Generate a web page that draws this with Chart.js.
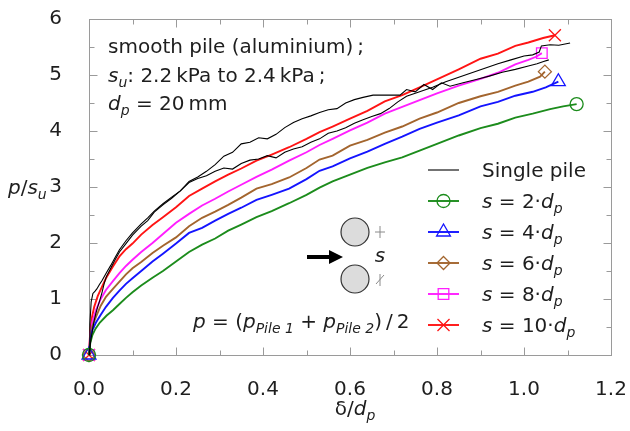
<!DOCTYPE html>
<html><head><meta charset="utf-8">
<script src="https://cdn.jsdelivr.net/npm/chart.js@4/dist/chart.umd.min.js"></script>
<style>html,body{margin:0;padding:0;background:#fff}#wrap{width:630px;height:431px;position:relative}</style>
</head><body><div id="wrap"><canvas id="c" width="630" height="431"></canvas></div>
<script>
// ---------------- data ----------------
const xTickValues = [0, 0.2, 0.4, 0.6, 0.8, 1.0, 1.2];
const yTickValues = [0, 1, 2, 3, 4, 5, 6];
const spacingLabels = ['2', '4', '6', '8', '10'];

const singleAX = [0,0.002,0.005,0.009,0.014,0.018,0.024,0.03,0.04,0.05,0.06,0.07,0.085,0.1,0.12,0.135,0.15,0.17,0.19,0.21,0.23,0.25,0.27,0.29,0.31,0.33,0.35,0.37,0.39,0.41,0.43,0.45,0.47,0.49,0.51,0.53,0.55,0.57,0.59,0.61,0.63,0.653,0.715,0.73,0.75,0.77,0.79,0.81,0.83,0.86,0.89,0.92,0.95,0.98,1.01,1.03,1.045,1.057];
const singleAY = [0,0.55,0.95,1.10,1.14,1.18,1.26,1.33,1.47,1.60,1.74,1.88,2.04,2.18,2.34,2.45,2.57,2.70,2.82,2.93,3.10,3.18,3.28,3.40,3.55,3.62,3.77,3.80,3.88,3.86,3.94,4.06,4.15,4.22,4.27,4.33,4.38,4.40,4.50,4.56,4.60,4.64,4.64,4.74,4.70,4.83,4.74,4.86,4.80,4.86,4.92,4.98,5.05,5.10,5.16,5.20,5.24,5.27];
const singleBX = [0,0.004,0.008,0.012,0.016,0.02,0.025,0.03,0.035,0.04,0.05,0.06,0.07,0.085,0.1,0.12,0.135,0.15,0.17,0.19,0.21,0.23,0.25,0.27,0.29,0.31,0.33,0.35,0.37,0.39,0.41,0.43,0.45,0.47,0.49,0.51,0.53,0.55,0.57,0.59,0.61,0.63,0.65,0.67,0.69,0.71,0.73,0.76,0.79,0.82,0.85,0.88,0.91,0.94,0.97,1.0,1.02,1.035,1.04,1.06,1.08,1.106];
const singleBY = [0,0.25,0.45,0.62,0.75,0.86,0.98,1.12,1.28,1.40,1.55,1.70,1.84,1.99,2.14,2.30,2.40,2.55,2.68,2.80,2.93,3.08,3.15,3.20,3.28,3.34,3.32,3.42,3.48,3.50,3.56,3.52,3.62,3.68,3.72,3.80,3.86,3.96,4.00,4.06,4.14,4.20,4.26,4.31,4.40,4.52,4.62,4.70,4.78,4.88,4.96,5.04,5.12,5.20,5.27,5.34,5.36,5.41,5.52,5.54,5.53,5.57];

const s2X = [0,0.003,0.008,0.015,0.025,0.04,0.055,0.07,0.085,0.1,0.12,0.146,0.17,0.2,0.23,0.26,0.29,0.32,0.35,0.385,0.42,0.46,0.5,0.53,0.56,0.6,0.64,0.68,0.72,0.76,0.8,0.85,0.9,0.94,0.98,1.02,1.06,1.09,1.121];
const s2Y = [0,0.22,0.36,0.47,0.58,0.70,0.80,0.91,1.02,1.12,1.24,1.38,1.50,1.67,1.84,1.97,2.08,2.22,2.33,2.46,2.57,2.71,2.86,2.99,3.10,3.22,3.34,3.44,3.53,3.65,3.77,3.92,4.05,4.13,4.24,4.31,4.39,4.44,4.48];
const s4X = [0,0.003,0.008,0.016,0.027,0.039,0.055,0.07,0.085,0.1,0.12,0.146,0.17,0.2,0.23,0.26,0.29,0.32,0.35,0.385,0.42,0.46,0.5,0.53,0.56,0.6,0.64,0.68,0.72,0.76,0.8,0.85,0.9,0.94,0.98,1.02,1.05,1.079];
const s4Y = [0,0.28,0.45,0.58,0.72,0.86,1.02,1.15,1.27,1.37,1.50,1.67,1.81,1.99,2.18,2.27,2.40,2.52,2.63,2.77,2.86,2.97,3.14,3.29,3.37,3.51,3.63,3.77,3.90,4.04,4.15,4.28,4.44,4.52,4.63,4.70,4.78,4.88];
const s6X = [0,0.003,0.008,0.016,0.027,0.039,0.055,0.07,0.085,0.1,0.12,0.146,0.17,0.2,0.23,0.26,0.29,0.32,0.35,0.385,0.42,0.46,0.5,0.53,0.56,0.6,0.64,0.68,0.72,0.76,0.8,0.85,0.9,0.94,0.98,1.01,1.037,1.048];
const s6Y = [0,0.33,0.52,0.68,0.88,1.04,1.18,1.31,1.44,1.55,1.66,1.82,1.95,2.10,2.30,2.45,2.56,2.68,2.81,2.97,3.05,3.17,3.34,3.49,3.56,3.74,3.84,3.97,4.08,4.22,4.33,4.50,4.62,4.70,4.81,4.88,4.97,5.06];
const s8X = [0,0.003,0.008,0.016,0.027,0.039,0.055,0.07,0.085,0.1,0.12,0.146,0.17,0.2,0.23,0.26,0.29,0.32,0.35,0.385,0.42,0.46,0.5,0.53,0.56,0.6,0.64,0.68,0.72,0.76,0.8,0.85,0.9,0.94,0.98,1.01,1.029,1.041];
const s8Y = [0,0.38,0.60,0.80,1.00,1.16,1.32,1.46,1.59,1.70,1.84,2.00,2.16,2.36,2.52,2.67,2.79,2.92,3.04,3.18,3.31,3.47,3.62,3.75,3.86,4.01,4.15,4.31,4.43,4.55,4.67,4.81,4.93,5.04,5.19,5.27,5.33,5.39];
const s10X = [0,0.003,0.007,0.012,0.02,0.03,0.039,0.055,0.07,0.085,0.1,0.12,0.146,0.17,0.2,0.23,0.26,0.29,0.32,0.35,0.385,0.42,0.46,0.5,0.53,0.56,0.6,0.64,0.68,0.72,0.76,0.8,0.85,0.9,0.94,0.98,1.01,1.044,1.071];
const s10Y = [0,0.45,0.68,0.86,1.05,1.22,1.37,1.58,1.76,1.89,1.99,2.15,2.32,2.46,2.64,2.84,2.97,3.10,3.22,3.33,3.47,3.58,3.71,3.86,3.98,4.08,4.22,4.36,4.53,4.64,4.78,4.92,5.10,5.29,5.38,5.52,5.58,5.66,5.71];

// ---------------- styling ----------------
const FONT = "'DejaVu Sans', sans-serif";
const TXT = '#1e1e1e';
const FRAME = '#9a9a9a';
const COLORS = { s2:'#1c8c1c', s4:'#1414ff', s6:'#a3652e', s8:'#ff1eff', s10:'#ff1414' };

const pts = (xs, ys) => xs.map((x, i) => ({ x, y: ys[i] }));
const endR = r => ctx => (ctx.dataIndex === 0 || ctx.dataIndex === ctx.dataset.data.length - 1) ? r : 0;

function series(label, xs, ys, color, style, r, rot) {
  return {
    label, data: pts(xs, ys), borderColor: color, borderWidth: 1.9,
    pointStyle: style, pointRadius: endR(r), pointRotation: rot || 0,
    pointBorderColor: color, pointBackgroundColor: 'rgba(0,0,0,0)', pointBorderWidth: 1.3,
    pointHoverRadius: 0, tension: 0, clip: false, order: 2
  };
}

const datasets = [
  series('s = 2·dp', s2X, s2Y, COLORS.s2, 'circle', 6.5),
  series('s = 4·dp', s4X, s4Y, COLORS.s4, 'triangle', 8),
  series('s = 6·dp', s6X, s6Y, COLORS.s6, 'rectRot', 6.5),
  series('s = 8·dp', s8X, s8Y, COLORS.s8, 'rect', 7.5),
  series('s = 10·dp', s10X, s10Y, COLORS.s10, 'crossRot', 8.5),
  { label: 'Single pile', data: pts(singleAX, singleAY), borderColor: '#000', borderWidth: 1.1, pointRadius: 0, tension: 0, clip: false, order: 0 },
  { label: 'Single pile (2)', data: pts(singleBX, singleBY), borderColor: '#000', borderWidth: 1.1, pointRadius: 0, tension: 0, clip: false, order: 0 }
];

// ---------------- helpers ----------------
function fontFor(p) {
  const size = p.sub ? 14 : 20;
  return (p.i ? 'italic ' : '') + size + 'px ' + FONT;
}
function rich(ctx, x, y, parts, align) {
  let total = 0; const ws = [];
  parts.forEach(p => { ctx.font = fontFor(p); const w = ctx.measureText(p.t).width; ws.push(w); total += w; });
  let cx = align === 'center' ? x - total / 2 : align === 'right' ? x - total : x;
  ctx.textAlign = 'left'; ctx.textBaseline = 'alphabetic';
  parts.forEach((p, k) => { ctx.font = fontFor(p); ctx.fillText(p.t, cx, y + (p.sub ? 5 : 0)); cx += ws[k]; });
}
function marker(ctx, style, x, y, r, color) {
  ctx.save(); ctx.strokeStyle = color; ctx.lineWidth = 1.3; ctx.beginPath();
  if (style === 'circle') { ctx.arc(x, y, r, 0, Math.PI * 2); }
  else if (style === 'triangle') {
    for (let k = 0; k < 3; k++) { const a = k * 2 * Math.PI / 3; const px = x + Math.sin(a) * r, py = y - Math.cos(a) * r; k ? ctx.lineTo(px, py) : ctx.moveTo(px, py); }
    ctx.closePath();
  } else if (style === 'rectRot') {
    ctx.moveTo(x, y - r); ctx.lineTo(x + r, y); ctx.lineTo(x, y + r); ctx.lineTo(x - r, y); ctx.closePath();
  } else if (style === 'rect') { const s = r * Math.SQRT1_2; ctx.rect(x - s, y - s, 2 * s, 2 * s); }
  else if (style === 'crossRot') { const s = r * Math.SQRT1_2; ctx.moveTo(x - s, y - s); ctx.lineTo(x + s, y + s); ctx.moveTo(x - s, y + s); ctx.lineTo(x + s, y - s); }
  ctx.stroke(); ctx.restore();
}
function seg(ctx, x1, y1, x2, y2) { ctx.beginPath(); ctx.moveTo(x1, y1); ctx.lineTo(x2, y2); ctx.stroke(); }

const decor = {
  id: 'decor',
  beforeDatasetsDraw(chart) {
    const { ctx, chartArea: a, scales: { x, y } } = chart;
    ctx.save();
    ctx.strokeStyle = FRAME; ctx.lineWidth = 1;
    const L = Math.round(a.left) + 0.5, R = Math.round(a.right) + 0.5, T = Math.round(a.top) + 0.5, B = Math.round(a.bottom) + 0.5;
    ctx.strokeRect(L, T, R - L, B - T);
    for (let i = 0; i < xTickValues.length; i++) {
      const px = Math.round(x.getPixelForValue(xTickValues[i])) + 0.5;
      seg(ctx, px, B, px, B - 8); seg(ctx, px, T, px, T + 8);
      if (i < xTickValues.length - 1) {
        const m = Math.round(x.getPixelForValue((xTickValues[i] + xTickValues[i + 1]) / 2)) + 0.5;
        seg(ctx, m, B, m, B - 5); seg(ctx, m, T, m, T + 5);
      }
    }
    for (let i = 0; i < yTickValues.length; i++) {
      const py = Math.round(y.getPixelForValue(yTickValues[i])) + 0.5;
      seg(ctx, L, py, L + 8, py); seg(ctx, R, py, R - 8, py);
      if (i < yTickValues.length - 1) {
        const m = Math.round(y.getPixelForValue((yTickValues[i] + yTickValues[i + 1]) / 2)) + 0.5;
        seg(ctx, L, m, L + 5, m); seg(ctx, R, m, R - 5, m);
      }
    }
    ctx.restore();
  },
  afterDraw(chart) {
    const { ctx, chartArea: a } = chart;
    ctx.save();
    ctx.fillStyle = TXT;
    // info block
    const bx = a.left + 19;
    rich(ctx, bx, a.top + 34, [{ t: 'smooth pile (aluminium)\u2009;' }]);
    rich(ctx, bx, a.top + 63, [{ t: 's', i: 1 }, { t: 'u', i: 1, sub: 1 }, { t: ': 2.2\u2009kPa to 2.4\u2009kPa\u2009;' }]);
    rich(ctx, bx, a.top + 91, [{ t: 'd', i: 1 }, { t: 'p', i: 1, sub: 1 }, { t: ' = 20\u2009mm' }]);
    // axis titles
    rich(ctx, 8, 194, [{ t: 'p', i: 1 }, { t: '/' }, { t: 's', i: 1 }, { t: 'u', i: 1, sub: 1 }]);
    rich(ctx, 355, 415, [{ t: '\u03b4/' }, { t: 'd', i: 1 }, { t: 'p', i: 1, sub: 1 }], 'center');
    // formula
    rich(ctx, a.left + 104, a.top + 309, [{ t: 'p', i: 1 }, { t: ' = (' }, { t: 'p', i: 1 }, { t: 'Pile 1', i: 1, sub: 1 }, { t: ' + ' }, { t: 'p', i: 1 }, { t: 'Pile 2', i: 1, sub: 1 }, { t: ')\u2009/\u20092' }]);
    // legend
    const items = [
      { parts: [{ t: 'Single pile' }], color: '#000', style: null, r: 0, w: 1.1 },
      ...spacingLabels.map((n, k) => ({
        parts: [{ t: 's', i: 1 }, { t: ' = ' + n + '\u00b7' }, { t: 'd', i: 1 }, { t: 'p', i: 1, sub: 1 }],
        color: [COLORS.s2, COLORS.s4, COLORS.s6, COLORS.s8, COLORS.s10][k],
        style: ['circle', 'triangle', 'rectRot', 'rect', 'crossRot'][k],
        r: [6.5, 8, 6.5, 7.5, 8.5][k], w: 1.9
      }))
    ];
    items.forEach((it, k) => {
      const yy = a.top + 151 + k * 31;
      ctx.strokeStyle = it.color; ctx.lineWidth = it.w;
      seg(ctx, a.left + 339, yy, a.left + 370, yy);
      if (it.style) marker(ctx, it.style, a.left + 354.5, yy, it.r, it.color);
      ctx.fillStyle = TXT;
      rich(ctx, a.left + 393, yy + 7, it.parts);
    });
    // pile diagram
    const cx = a.left + 266;
    [213, 260].forEach(o => {
      ctx.beginPath(); ctx.arc(cx, a.top + o, 14, 0, Math.PI * 2);
      ctx.fillStyle = '#dcdcdc'; ctx.fill(); ctx.strokeStyle = '#333'; ctx.lineWidth = 1.2; ctx.stroke();
    });
    ctx.strokeStyle = '#000'; ctx.lineWidth = 4;
    seg(ctx, a.left + 218, a.top + 238, a.left + 242, a.top + 238);
    ctx.fillStyle = '#000'; ctx.beginPath();
    ctx.moveTo(a.left + 254, a.top + 238); ctx.lineTo(a.left + 240, a.top + 231); ctx.lineTo(a.left + 240, a.top + 245); ctx.closePath(); ctx.fill();
    ctx.strokeStyle = '#8a8a8a'; ctx.lineWidth = 1;
    const dx = a.left + 291;
    seg(ctx, dx - 5, a.top + 213, dx + 5, a.top + 213); seg(ctx, dx, a.top + 207, dx, a.top + 219);
    seg(ctx, dx, a.top + 255, dx, a.top + 267); seg(ctx, dx - 4, a.top + 265, dx + 4, a.top + 256);
    ctx.fillStyle = TXT;
    rich(ctx, dx, a.top + 243, [{ t: 's', i: 1 }], 'center');
    ctx.restore();
  }
};

new Chart(document.getElementById('c'), {
  type: 'line',
  data: { datasets },
  options: {
    responsive: false, animation: false, devicePixelRatio: 1,
    layout: { padding: { left: 0, right: 19, top: 19, bottom: 0 } },
    plugins: { legend: { display: false }, tooltip: { enabled: false } },
    scales: {
      x: {
        type: 'linear', min: 0, max: 1.2,
        afterBuildTicks: s => { s.ticks = xTickValues.map(v => ({ value: v })); },
        ticks: { callback: v => v.toFixed(1), padding: 15, color: TXT, font: { family: FONT, size: 20 }, maxRotation: 0, autoSkip: false },
        grid: { display: false }, border: { display: false },
        afterFit: s => { s.height = 76; s.paddingLeft = 0; s.paddingRight = 0; }
      },
      y: {
        type: 'linear', min: 0, max: 6,
        afterBuildTicks: s => { s.ticks = yTickValues.map(v => ({ value: v })); },
        ticks: { callback: v => String(v), padding: 19, color: TXT, font: { family: FONT, size: 20 } },
        grid: { display: false }, border: { display: false },
        afterFit: s => { s.width = 89; s.paddingTop = 0; s.paddingBottom = 0; }
      }
    }
  },
  plugins: [decor]
});
</script>
</body></html>
